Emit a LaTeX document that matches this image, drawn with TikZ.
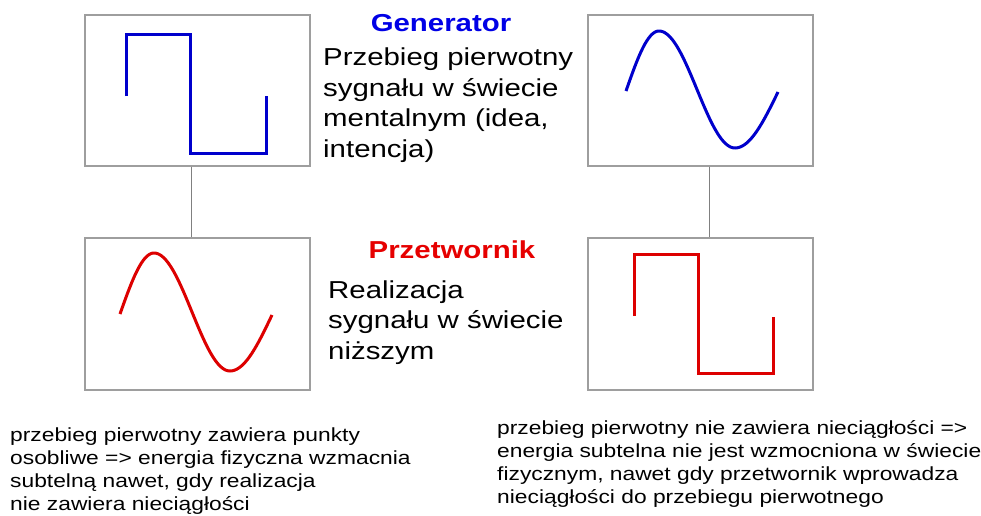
\documentclass[tikz,border=0pt]{standalone}
\usepackage{fontspec}
\setmainfont{Liberation Sans}[FakeStretch=1.2]
\begin{document}
\begin{tikzpicture}[x=1pt,y=-1pt,
  frame/.style={draw=black!38, line width=1.2pt, fill=white, inner sep=0pt,
                minimum width=225pt},
  link/.style={draw=black!50, line width=0.9pt},
  wave/.style={line width=3pt, line join=miter},
  title/.style={anchor=base, inner sep=0pt, font=\fontsize{24.5}{30.5}\selectfont\bfseries},
  body/.style={anchor=base west, inner sep=0pt, align=left, font=\fontsize{24.5}{30.5}\selectfont},
  note/.style={anchor=base west, inner sep=0pt, align=left, font=\fontsize{19}{22.7}\selectfont}]
\definecolor{sigblue}{RGB}{0,0,204}
\definecolor{sigred}{RGB}{221,0,0}
\definecolor{hdblue}{RGB}{0,0,230}
\definecolor{hdred}{RGB}{230,0,0}
\useasboundingbox (0,0) rectangle (981,515);
\fill[white] (0,0) rectangle (981,515);

% four signal frames
\node[frame, minimum height=151pt] (gen1) at (197.5,90.5) {};
\node[frame, minimum height=151pt] (gen2) at (700.5,90.5) {};
\node[frame, minimum height=152pt] (prz1) at (197.5,314) {};
\node[frame, minimum height=152pt] (prz2) at (700.5,314) {};

% links between the upper and lower frames
\draw[link] ([xshift=-6.5pt]gen1.south) -- ([xshift=-6.5pt]prz1.north);
\draw[link] ([xshift=8.5pt]gen2.south) -- ([xshift=8.5pt]prz2.north);

% square waves
\draw[wave, sigblue] (126,96) -- (126,34) -- (190,34) -- (190,153) -- (266,153) -- (266,96);
\draw[wave, sigred] (634,316) -- (634,254) -- (698,254) -- (698,373) -- (773,373) -- (773,317);

% sine waves: rising quarter, falling half, rising quarter
\draw[wave, sigblue, line join=round]
  plot[domain=626:659, samples=20] (\x, {91-60*sin(90*(\x-626)/33)})
  -- plot[domain=659:735, samples=40] (\x, {89.5-58.5*cos(180*(\x-659)/76)})
  -- plot[domain=735:778, samples=20] (\x, {92+56*cos(90*(\x-735)/43)});
\draw[wave, sigred, line join=round]
  plot[domain=120:154, samples=20] (\x, {314-61*sin(90*(\x-120)/34)})
  -- plot[domain=154:230, samples=40] (\x, {312-59*cos(180*(\x-154)/76)})
  -- plot[domain=230:272, samples=20] (\x, {315+56*cos(90*(\x-230)/42)});

% headings and descriptions (multi-line nodes sit on their last baseline)
\node[title, text=hdblue] (hgen) at (441,31.5) {Generator};
\node[body] (tgen) at (323,157) {Przebieg pierwotny\\sygnału w świecie\\mentalnym (idea,\\intencja)};
\node[title, text=hdred] (hprz) at (452,258) {Przetwornik};
\node[body] (tprz) at (328,359) {Realizacja\\sygnału w świecie\\niższym};

% notes below
\node[note] (nl) at (10,510) {przebieg pierwotny zawiera punkty\\osobliwe => energia fizyczna wzmacnia\\subtelną nawet, gdy realizacja\\nie zawiera nieciągłości};
\node[note] (nr) at (497,503) {przebieg pierwotny nie zawiera nieciągłości =>\\energia subtelna nie jest wzmocniona w świecie\\fizycznym, nawet gdy przetwornik wprowadza\\nieciągłości do przebiegu pierwotnego};
\end{tikzpicture}
\end{document}
